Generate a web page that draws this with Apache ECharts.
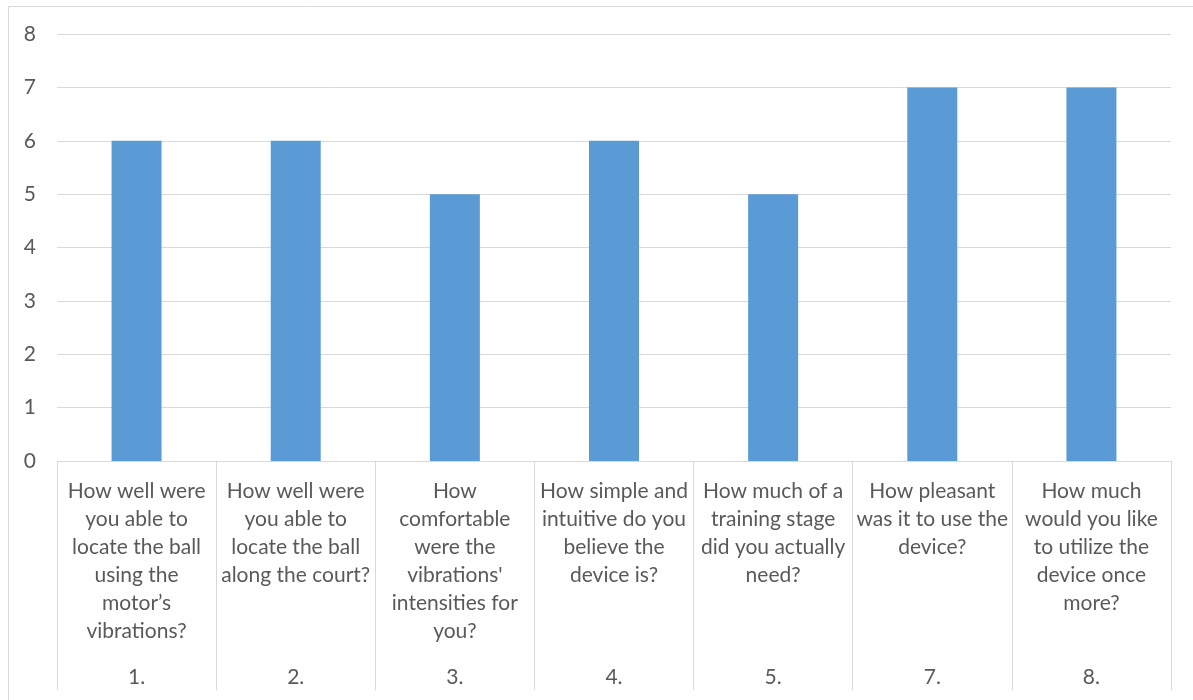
<!DOCTYPE html>
<html>
<head>
<meta charset="utf-8">
<script src="https://cdn.jsdelivr.net/npm/echarts@6/dist/echarts.min.js"></script>
<style>html,body{margin:0;padding:0;background:#fff}#c{width:1193px;height:700px}</style>
</head>
<body>
<div id="c"></div>
<script>
const questions = [
  "How well were\nyou able to\nlocate the ball\nusing the\nmotor\u2019s\nvibrations?",
  "How well were\nyou able to\nlocate the ball\nalong the court?",
  "How\ncomfortable\nwere the\nvibrations'\nintensities for\nyou?",
  "How simple and\nintuitive do you\nbelieve the\ndevice is?",
  "How much of a\ntraining stage\ndid you actually\nneed?",
  "How pleasant\nwas it to use the\ndevice?",
  "How much\nwould you like\nto utilize the\ndevice once\nmore?"
];
const numbers = ["1.", "2.", "3.", "4.", "5.", "7.", "8."];
const values = [6, 6, 5, 6, 5, 7, 7];
const yTicks = [0, 8, 1];

const FONT = 'Lato';
const TXT = '#595959';
const GRID = '#D9D9D9';

const chart = echarts.init(document.getElementById('c'), null, {renderer: 'canvas'});
chart.setOption({
  animation: false,
  backgroundColor: '#fff',
  graphic: [{
    type: 'rect', silent: true, z: -1,
    shape: {x: 8.5, y: 6.5, width: 1250, height: 760},
    style: {fill: 'none', stroke: GRID, lineWidth: 1}
  }],
  grid: {left: 57, right: 22, top: 34, bottom: 239, containLabel: false},
  xAxis: [{
    type: 'category',
    data: questions,
    position: 'bottom',
    axisLine: {show: true, lineStyle: {color: GRID, width: 1}},
    axisTick: {show: true, interval: 0, length: 229, lineStyle: {color: GRID, width: 1}},
    axisLabel: {interval: 0, margin: 16, color: TXT, fontFamily: FONT, fontSize: 21, lineHeight: 28, align: 'center', verticalAlign: 'top'},
    splitLine: {show: false}
  }, {
    type: 'category',
    data: numbers,
    position: 'bottom',
    offset: 200,
    axisLine: {show: false},
    axisTick: {show: false},
    axisLabel: {interval: 0, margin: 4, color: TXT, fontFamily: FONT, fontSize: 21, lineHeight: 24, verticalAlign: 'top'},
    splitLine: {show: false}
  }],
  yAxis: {
    type: 'value',
    min: yTicks[0], max: yTicks[1], interval: yTicks[2],
    axisLine: {show: false},
    axisTick: {show: false},
    axisLabel: {color: TXT, fontFamily: FONT, fontSize: 21, margin: 21},
    splitLine: {show: true, lineStyle: {color: GRID, width: 1}}
  },
  series: [{
    type: 'bar',
    data: values,
    xAxisIndex: 0,
    barWidth: 50,
    itemStyle: {color: '#5B9BD5'}
  }]
});
</script>
</body>
</html>
